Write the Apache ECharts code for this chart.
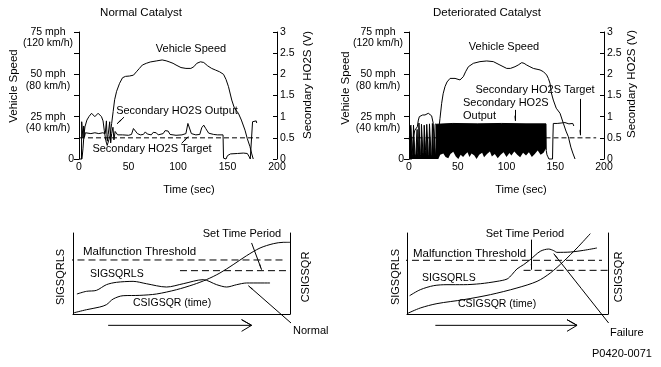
<!DOCTYPE html>
<html><head><meta charset="utf-8">
<script src="https://cdn.jsdelivr.net/npm/echarts@6/dist/echarts.min.js"></script>
<style>html,body{margin:0;padding:0;background:#fff}#c{width:661px;height:367px}</style>
</head><body><div id="c"></div>
<script>
const FONT = '"Liberation Sans", Arial, Helvetica, sans-serif';

// ---- tick labels ----
const timeTicks = [0, 50, 100, 150, 200];
const speedTickValues = [0, 25, 50, 75];
const speedTickMph = ['0', '25 mph', '50 mph', '75 mph'];
const speedTickKmh = ['', '(40 km/h)', '(80 km/h)', '(120 km/h)'];
const voltRange = [0, 3];

// ---- Normal catalyst (time s, mph / V) ----
const normalSpeed = [[0,0],[3,0],[4,6],[5,14],[6,19],[8,23],[10,25],[12.7,27],[16,25],[19.3,27],[22.7,25],[24.3,22.5],[25.5,17],[27,11],[28.5,8],[30,9],[31.5,14],[33,21],[34.5,28],[36,35],[38,40],[41,44.7],[44,48],[47,48.8],[51,49],[55,49.5],[58,51.5],[61,53.5],[64,55.5],[68,56.5],[72,57.3],[78,57.9],[84,58.5],[88,58],[91,57.4],[95,56.5],[98,55.5],[103,54],[108,53.5],[113,53.5],[116,54.5],[119,56.5],[122.7,57.4],[126,57],[130,55],[134,53.5],[138,52.5],[142,51.5],[146,50],[148.5,47],[151,42.7],[154.3,34.8],[157,30],[161,27],[164,23],[167.7,17],[170,12],[172.7,7.3],[174.5,3],[176,0]];
const normalOutput = [[2.5,0],[2.7,0.88],[3.3,0.86],[4,0.5],[4.8,0.78],[5.5,0.52],[6.5,0.62],[8,0.58],[12,0.6],[16,0.62],[20,0.6],[24,0.62],[26.5,0.6],[27.7,0.9],[28.5,0.42],[29.5,0.58],[31,0.88],[32,0.38],[33,0.6],[34.3,0.75],[35.3,0.45],[36.5,0.65],[37.7,0.68],[39,0.57],[44,0.57],[50,0.56],[53,0.58],[55,0.72],[57,0.74],[59,0.6],[62,0.57],[65,0.58],[67,0.64],[69,0.59],[73,0.57],[75,0.63],[78,0.62],[80,0.57],[85,0.6],[87,0.67],[90,0.66],[92,0.58],[98,0.56],[104,0.57],[108,0.6],[110,0.84],[112,0.8],[113.5,0.6],[118,0.57],[122,0.58],[124,0.74],[126,0.8],[128,0.72],[131,0.61],[136,0.58],[140,0.57],[145.5,0.57],[146,0.02],[148.5,0],[150,0.08],[153,0.12],[160,0.13],[166,0.14],[170,0.13],[172,0.05],[173,0],[175,0],[175.3,0.88],[177,0.9],[179,0.9],[179.5,0.85]];
const normalTarget = [[1,0.5],[182,0.5]];

// ---- Deteriorated catalyst ----
const detSpeed = [[0,0],[3,0],[4.4,13],[6,17],[8.5,19],[9.6,23],[10.6,25],[11.3,26],[14,26],[16.4,26],[18,26.5],[19.8,27],[21.5,26.5],[23.2,25.5],[24.9,21],[25.5,12],[26,5],[26.7,0],[28.4,0],[30.1,15.2],[31.8,24],[33.5,32.9],[35,38.5],[36.9,42.7],[39,45.5],[42.1,47.6],[47.2,47.6],[52.3,46.7],[55.7,48.6],[58,51.5],[60.9,54.5],[66,56.5],[72.8,57.5],[79.7,57.9],[86.5,57.5],[93.3,55.5],[100.2,53.5],[104,53.5],[108.7,54.5],[112,55.5],[115.6,56.9],[118,56.5],[120.7,55.5],[124,54.5],[127.5,53.5],[134.4,52.6],[138,51.5],[141.2,49.6],[143,47.5],[144.6,44.7],[146,39],[148,34.8],[151,30],[154.9,27],[158.3,21.1],[161,16.5],[163.4,13.2],[166,7],[168,3.5],[170.3,0]];
const detOutputSpikes = [[0.3,0.45],[1,0.75],[2,0.8],[2.7,0.78],[3.2,0.1],[4,0.05],[4.6,0.8],[5.4,0.82],[6,0.12],[7,0.05],[7.6,0.4],[8.3,0.7],[9,0.15],[9.6,0],[10.2,0.85],[11,0.84],[11.6,0.1],[12.2,0.05],[12.8,0.82],[13.6,0.83],[14.2,0.15],[15,0.1],[15.6,0.8],[16.4,0.82],[17,0.2],[17.6,0.1],[18.2,0.82],[19,0.8],[19.8,0.05],[20.4,0.1],[21,0.83],[22,0.82],[22.6,0.1],[23.3,0.05],[24,0.84],[24.8,0.83],[25.4,0.02],[26.2,0],[26.8,0.82],[27.7,0.83]];
const detBlockUpper = [[27.7,0.82],[45,0.84],[70,0.83],[95,0.84],[120,0.83],[140.5,0.83]];
const detBlockLower = [[27.7,0],[30.1,0],[32,0.1],[35.2,0.13],[37.5,0.05],[40.3,0.02],[42.5,0.12],[45.4,0.17],[48,0.06],[50.6,0],[53,0.1],[55.5,0.05],[57.4,0.1],[60,0.16],[62,0.05],[64.2,0.13],[67,0.08],[69.3,0],[72,0.1],[75,0.15],[77,0.04],[80,0.12],[83,0.18],[85,0.06],[88,0.12],[91,0.02],[94,0.1],[97,0.16],[100,0.05],[103,0.14],[105,0.08],[108,0.18],[111,0.1],[114,0.04],[117,0.15],[120,0.08],[123,0.16],[126,0.05],[129,0.12],[132,0.2],[135,0.1],[138,0.15],[140.5,0.25]];
const detOutputTail = [[140.5,0.83],[140.8,0.2],[141.5,0.1],[142.5,0.05],[143.5,0],[147.2,0],[147.6,0.5],[148,0.84],[150,0.86],[152,0.84],[154,0.86],[156,0.85],[158,0.83],[160,0.86],[162,0.87],[164,0.83],[166,0.86],[168,0.84],[169,0.78]];
const detTarget = [[0.5,0.5],[192,0.5]];

// ---- Bottom schematics (0..100 units) ----
const normalSig = [[1.8,24.7],[6.2,28],[10.8,29.2],[15.4,36.2],[20,39.1],[27.7,40.3],[33.8,37.4],[43.1,33.3],[50.8,37.4],[60,42.4],[66.2,36.2],[70.8,33.3],[75.4,36.2],[80,38.3],[90.8,38.3]];
const normalCsig = [[0,1.2],[6.2,5.3],[12.3,8.6],[15.4,11.5],[18.5,18.5],[23.1,22.6],[30.8,23],[38.5,24.7],[47.7,30],[55.4,36.2],[61.5,42.4],[67.7,50.6],[73.8,60.9],[80,72],[86.2,81.5],[92.3,86.8],[96.9,88.5],[100,88.5]];
const failSig = [[1.3,22.6],[6.6,30],[13.3,35],[19.9,36.2],[28.2,36.2],[36.5,37.4],[44.8,40.3],[49.8,43.2],[52.2,48.6],[54.7,55.6],[58,60.9],[61.3,67.1],[66.3,77.4],[70.5,80.2],[73,78.2],[74.6,76.1],[81.3,76.5],[87.9,78.6],[94.5,81.5]];
const failCsig = [[0,0.4],[6.6,7.4],[14.9,12.8],[28.2,17.7],[41.5,23.9],[54.7,32.1],[64.7,40.3],[71.3,50.6],[77.9,65],[84.6,81.5],[91.2,99.2]];
const normalThreshold = [[-3,66.7],[97,66.7]];
const normalSetLevel = [[49.3,53.5],[103.2,53.5]];
const failThreshold = [[-3,66.3],[97,66.3]];
const failSetLevel = [[58,53.9],[105.3,53.9]];
const normalTimeArrow = [[16.2,-14],[82.3,-14],[77.7,-7],[82.3,-14],[77.7,-21.4]];
const failTimeArrow = [[14.1,-14],[84.6,-14],[79.6,-7],[84.6,-14],[79.6,-21.4]];
const normalPointer = [[100.8,-11.9],[90.8,11.55]];
const failPointer = [[100.3,-11.1],[86.65,31.7]];

const chart = echarts.init(document.getElementById('c'), null, {renderer: 'canvas'});

function speedLabel(v) {
  const i = speedTickValues.indexOf(v);
  if (i < 0) return '';
  if (!speedTickKmh[i]) return speedTickMph[i];
  return '{n|\u00a0}\n{n|' + speedTickMph[i] + '}\n{n|' + speedTickKmh[i] + '}';
}
const axisBlack = {lineStyle: {color: '#000', width: 1}};
function timeAxis(g) {
  return {type: 'value', gridIndex: g, min: timeTicks[0], max: timeTicks[timeTicks.length-1], interval: 50,
    axisLine: {show: false}, axisTick: {show: false}, splitLine: {show: false},
    axisLabel: {color: '#000', fontSize: 10.5, fontFamily: FONT, margin: 3}};
}
function speedAxis(g) {
  return {type: 'value', gridIndex: g, position: 'left', min: 0, max: 75, interval: 12.5,
    axisLine: {show: true, onZero: false, ...axisBlack}, axisTick: {show: true, length: 5, ...axisBlack}, splitLine: {show: false},
    axisLabel: {color: '#000', fontSize: 10.5, fontFamily: FONT, margin: 5, align: 'right', lineHeight: 11.5,
      formatter: speedLabel,
      rich: {n: {width: 52, align: 'center', fontSize: 10.5, lineHeight: 11.5, color: '#000', fontFamily: FONT}}}};
}
function voltAxis(g) {
  return {type: 'value', gridIndex: g, position: 'right', min: voltRange[0], max: voltRange[1], interval: 0.5,
    axisLine: {show: true, onZero: false, ...axisBlack}, axisTick: {show: true, inside: true, length: 4, ...axisBlack}, splitLine: {show: false},
    axisLabel: {color: '#000', fontSize: 10.5, fontFamily: FONT, margin: 3}};
}
function boxX(g) {
  return {type: 'value', gridIndex: g, min: 0, max: 100, axisLine: {show: true, onZero: false, ...axisBlack},
    axisTick: {show: false}, axisLabel: {show: false}, splitLine: {show: false}};
}
function boxY(g, pos) {
  return {type: 'value', gridIndex: g, position: pos, min: 0, max: 100, axisLine: {show: true, onZero: false, ...axisBlack},
    axisTick: {show: false}, axisLabel: {show: false}, splitLine: {show: false}};
}
function line(xi, yi, data, extra) {
  return Object.assign({type: 'line', xAxisIndex: xi, yAxisIndex: yi, data: data, symbol: 'none', clip: false,
    silent: true, animation: false, lineStyle: {color: '#000', width: 1}}, extra || {});
}
function arrows(list, size) {
  return {symbol: ['none', 'arrow'], symbolSize: [1, size || 6], silent: true, animation: false,
    label: {show: false}, emphasis: {disabled: true},
    lineStyle: {color: '#000', width: 1, type: 'solid'}, itemStyle: {color: '#000'},
    data: list.map(a => [{coord: a[0]}, {coord: a[1]}])};
}
const dash = {color: '#000', width: 1, type: [5, 3]};
const dashB = {color: '#000', width: 1, type: [7, 4]};

function T(text, x, y, o) {
  o = o || {};
  return {type: 'text', x: x, y: y, rotation: o.rot || 0, silent: true, z: 100,
    style: {text: text, fill: '#000', font: (o.weight || 'normal') + ' ' + (o.size || 11) + 'px ' + FONT,
      align: o.align || 'center', verticalAlign: 'middle'}};
}
const R = Math.PI / 2;

const option = {
  animation: false,
  backgroundColor: '#fff',
  textStyle: {fontFamily: FONT},
  grid: [
    {left: 79, top: 32, width: 198, height: 127, containLabel: false, outerBoundsMode: 'none'},
    {left: 409, top: 32, width: 195, height: 127, containLabel: false, outerBoundsMode: 'none'},
    {left: 73, top: 233, width: 217, height: 81, containLabel: false, outerBoundsMode: 'none'},
    {left: 407, top: 233, width: 201, height: 81, containLabel: false, outerBoundsMode: 'none'}
  ],
  xAxis: [timeAxis(0), timeAxis(1), boxX(2), boxX(3)],
  yAxis: [speedAxis(0), voltAxis(0), speedAxis(1), voltAxis(1), boxY(2, 'left'), boxY(2, 'right'), boxY(3, 'left'), boxY(3, 'right')],
  series: [
    // Normal catalyst
    line(0, 1, normalTarget, {lineStyle: dash, z: 2, markLine: arrows([
      [[45.5, 0.99], [38.4, 0.83]],
      [[103.7, 0.37], [110.4, 0.53]]
    ], 6)}),
    line(0, 1, normalOutput, {z: 3}),
    line(0, 0, normalSpeed, {z: 4}),
    // Deteriorated catalyst
    line(1, 3, detTarget, {lineStyle: dash, z: 1, markLine: arrows([
      [[175.4, 1.42], [175.4, 0.56]],
      [[108.7, 1.16], [108.7, 0.9]]
    ], 6)}),
    line(1, 3, detBlockUpper, {z: 2, areaStyle: {color: '#000', opacity: 1}}),
    line(1, 3, detBlockLower, {z: 3, lineStyle: {width: 0, opacity: 0}, areaStyle: {color: '#fff', opacity: 1}}),
    line(1, 3, detOutputSpikes, {z: 3, areaStyle: {color: '#000', opacity: 1}}),
    line(1, 3, detOutputTail, {z: 3}),
    line(1, 2, detSpeed, {z: 4}),
    // Bottom left
    line(2, 4, normalThreshold, {lineStyle: dashB, markLine: arrows([
      [[82.3, 87.7], [86.9, 54.7]],
      [[90.8, 11.55], [80.8, 35]]
    ], 6)}),
    line(2, 4, normalSetLevel, {lineStyle: dashB}),
    line(2, 4, normalSig, {smooth: 0.3}),
    line(2, 4, normalCsig, {smooth: 0.3}),
    line(2, 4, normalTimeArrow, {}),
    line(2, 4, normalPointer, {}),
    // Bottom right
    line(3, 6, failThreshold, {lineStyle: dashB, markLine: arrows([
      [[61.9, 91.8], [61.9, 54.7]],
      [[86.65, 31.7], [73, 74.5]]
    ], 6)}),
    line(3, 6, failSetLevel, {lineStyle: dashB}),
    line(3, 6, failSig, {smooth: 0.3}),
    line(3, 6, failCsig, {smooth: 0.3}),
    line(3, 6, failTimeArrow, {}),
    line(3, 6, failPointer, {})
  ],
  graphic: [
    T('Normal Catalyst', 141, 13, {size: 11.5}),
    T('Deteriorated Catalyst', 487, 13, {size: 11.5}),
    T('Vehicle Speed', 14, 86, {rot: R, size: 11.5}),
    T('Vehicle Speed', 346, 88, {rot: R, size: 11.5}),
    T('Secondary HO2S (V)', 307.5, 85, {rot: R, size: 11.5}),
    T('Secondary HO2S (V)', 632, 84, {rot: R, size: 11.5}),
    T('Vehicle Speed', 191, 49),
    T('Vehicle Speed', 504, 47),
    T('Secondary HO2S Output', 177, 111),
    T('Secondary HO2S Target', 152, 149),
    T('Secondary HO2S Target', 535, 90),
    T('Secondary HO2S', 463, 103, {align: 'left'}),
    T('Output', 463, 116, {align: 'left'}),
    T('Time (sec)', 189, 190),
    T('Time (sec)', 521, 190),
    T('Set Time Period', 242, 234),
    T('Malfunction Threshold', 83, 252, {align: 'left', size: 11.5}),
    T('SIGSQRLS', 90, 274, {align: 'left', size: 10.5}),
    T('CSIGSQR (time)', 133, 303, {align: 'left', size: 10.5}),
    T('Normal', 293, 331, {align: 'left'}),
    T('SIGSQRLS', 61, 277, {rot: R}),
    T('CSIGSQR', 306, 277, {rot: R}),
    T('Set Time Period', 525, 234),
    T('Malfunction Threshold', 413, 254, {align: 'left', size: 11.5}),
    T('SIGSQRLS', 422, 278, {align: 'left', size: 10.5}),
    T('CSIGSQR (time)', 458, 304, {align: 'left', size: 10.5}),
    T('Failure', 610, 333, {align: 'left'}),
    T('SIGSQRLS', 396, 277, {rot: R}),
    T('CSIGSQR', 619, 277, {rot: R}),
    T('P0420-0071', 622, 354)
  ]
};
chart.setOption(option);
</script>
</body></html>
